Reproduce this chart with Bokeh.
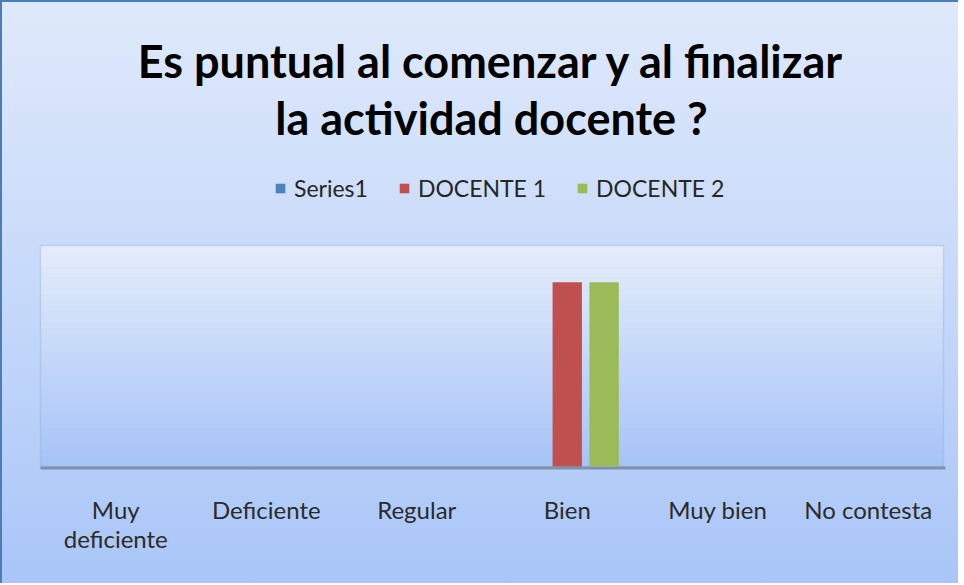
from bokeh.plotting import figure
from bokeh.models import Legend, LegendItem, BoxAnnotation, ColumnDataSource, Range1d, Label
from bokeh.transform import dodge
from bokeh.core.properties import value
from bokeh.embed import file_html
from bokeh.resources import INLINE

categories = ["Muy deficiente", "Deficiente", "Regular", "Bien", "Muy bien", "No contesta"]
tick_line1 = ["Muy", "Deficiente", "Regular", "Bien", "Muy bien", "No contesta"]
tick_line2 = ["deficiente", "", "", "", "", ""]
series1 = [0, 0, 0, 0, 0, 0]
docente1 = [0, 0, 0, 1, 0, 0]
docente2 = [0, 0, 0, 1, 0, 0]
series_names = ["Series1", "DOCENTE 1", "DOCENTE 2"]
title_lines = ["Es puntual al comenzar y al finalizar", "la actividad docente ?"]

colors = ["#4f81bd", "#c0504d", "#9bbb59"]
FONT = "Lato"

# geometry (pixels of the canvas)
W, H = 958, 583
PL, PR, PT, PB = 40, 943, 245, 466          # plot-area box in canvas px
YMAX = 1.2
ncat = len(categories)
xs = (PR - PL) / ncat                        # px per category
ys = (PB - PT) / YMAX                        # px per value unit

def ypx(py):  # canvas px (from top) -> data y
    return (PB - py) / ys

def xpx(px):  # canvas px (from left) -> data x
    return (px - PL) / xs

xpos = [i + 0.5 for i in range(ncat)]
src = ColumnDataSource(dict(x=xpos, cat=categories, s1=series1, d1=docente1, d2=docente2,
                            t1=tick_line1, t2=tick_line2))

p = figure(
    x_range=Range1d(xpx(0), xpx(W)),
    y_range=Range1d(ypx(H), ypx(0)),
    frame_width=W, frame_height=H,
    min_border=0, x_axis_location=None, y_axis_location=None,
    output_backend="svg", toolbar_location=None,
    styles={"background": "linear-gradient(to bottom, #dfe9fb 0%, #c9dbfa 45%, #a9c6f8 100%)",
            "box-shadow": "inset 2px 2px 0 #4a7ebb"},
)
p.border_fill_alpha = 0
p.background_fill_alpha = 0
p.outline_line_color = None
p.xgrid.visible = False
p.ygrid.visible = False

# plot-area gradient bands (decoration)
n = 40
c_top = (0xe5, 0xed, 0xfb)
c_bot = (0xa6, 0xc3, 0xf7)
for i in range(n):
    t = (i + 0.5) / n
    c = tuple(int(round(c_bot[k] + (c_top[k] - c_bot[k]) * t)) for k in range(3))
    p.add_layout(BoxAnnotation(left=0, right=ncat, bottom=YMAX * i / n, top=YMAX * (i + 1) / n,
                               fill_color="#%02x%02x%02x" % c, fill_alpha=1,
                               line_color=None, level="underlay"))
# plot-area border and bottom shadow
p.add_layout(BoxAnnotation(left=0, right=ncat, bottom=0, top=YMAX, fill_alpha=0,
                           line_color="#86a2ca", line_width=1.5, level="underlay"))
p.add_layout(BoxAnnotation(left=0, right=ncat + 2 / xs, bottom=-3 / ys, top=0, fill_color="#7a8aa2",
                           fill_alpha=0.9, line_color=None, level="underlay"))

w = 0.195
off = 0.245
r1 = p.vbar(x=dodge("x", -off), top="s1", width=w, source=src, fill_color=colors[0], line_color=None)
r2 = p.vbar(x=dodge("x", 0), top="d1", width=w, source=src, fill_color=colors[1], line_color=None)
r3 = p.vbar(x=dodge("x", off), top="d2", width=w, source=src, fill_color=colors[2], line_color=None)

# category labels
p.text(x="x", y=ypx(509), text="t1", source=src, text_font=value(FONT), text_font_size="24px",
       text_color="#2b2b2b", text_align="center", text_baseline="alphabetic")
p.text(x="x", y=ypx(538), text="t2", source=src, text_font=value(FONT), text_font_size="24px",
       text_color="#2b2b2b", text_align="center", text_baseline="alphabetic")

# title lines
for line, base in zip(title_lines, [60, 117]):
    p.add_layout(Label(x=xpx(491), y=ypx(base), text=line, text_align="center",
                       text_baseline="alphabetic", text_font=FONT, text_font_style="bold",
                       text_font_size="45px", text_color="#000000"))

legend = Legend(items=[LegendItem(label=series_names[0], renderers=[r1]),
                       LegendItem(label=series_names[1], renderers=[r2]),
                       LegendItem(label=series_names[2], renderers=[r3])],
                orientation="horizontal", location=(274, H - 202),
                label_text_font=FONT, label_text_font_size="23px", label_text_color="#262626",
                glyph_width=12, glyph_height=12, label_standoff=8, spacing=30,
                label_height=24,
                background_fill_alpha=0, border_line_color=None,
                margin=0, padding=0)
p.add_layout(legend, "center")

open("out.html", "w").write(file_html(p, INLINE))
